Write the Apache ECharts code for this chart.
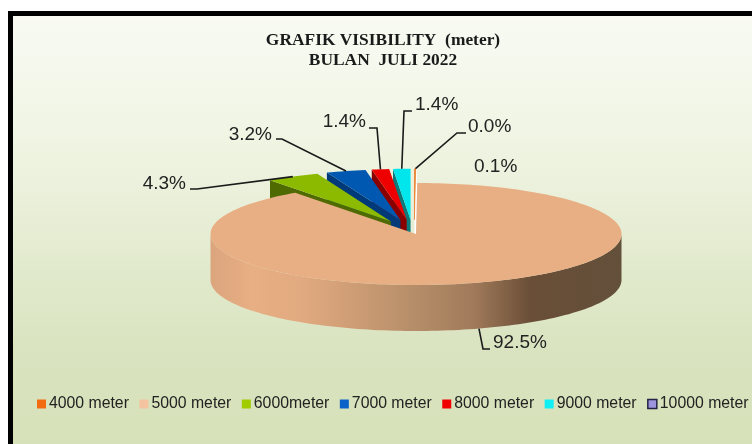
<!DOCTYPE html>
<html>
<head>
<meta charset="utf-8">
<title>Grafik Visibility</title>
<style>
html, body { margin: 0; padding: 0; background: #fff; }
#chart { width: 752px; height: 444px; }
</style>
<script src="https://cdn.jsdelivr.net/npm/echarts@6/dist/echarts.min.js"></script>
</head>
<body>
<div id="chart"></div>
<script>
// data, legend order, clockwise from 12 o'clock
const categories = ['4000 meter', '5000 meter', '6000meter', '7000 meter', '8000 meter', '9000 meter', '10000 meter'];
const percents = [0.1, 92.5, 4.3, 3.2, 1.4, 1.4, 0.0];

const topColors = ['#e46c0a', '#e8ae84', '#8cba00', '#0058b0', '#ee0000', '#00e6ec', '#8a80c8'];
const wallColors = ['#96470a', '#a88260', '#4f6a00', '#003a78', '#8a0000', '#0a7a7a', '#5a5490'];
const legendColors = ['#f36b10', '#f5c3a0', '#a0cc00', '#0a62c8', '#f00000', '#10f0f4', '#9c94dc'];
// back to front, the big slice has to cover the walls of the small ones
const drawOrder = [6, 0, 5, 4, 3, 2, 1];

// ellipse of the top face
const pie = { cx: 415.5, cy: 234, rx: 205.5, ry: 51, depth: 46, explodeX: 0.22, explodeY: 0.28, shiftX: -3 };

// text anchor and elbow of each leader line
const labelSpots = [
    { x: 474, y: 167, align: 'left', elbow: null },
    { x: 493, y: 343, align: 'left', elbow: [[483, 349], [490, 349]] },
    { x: 186, y: 184, align: 'right', elbow: [[197, 189], [190, 189]] },
    { x: 272, y: 135, align: 'right', elbow: [[282, 139], [276, 139]] },
    { x: 366, y: 122, align: 'right', elbow: [[377, 128], [369, 128]] },
    { x: 415, y: 105, align: 'left', elbow: [[404, 111], [412, 111]] },
    { x: 468, y: 127, align: 'left', elbow: [[457, 133], [466, 133]] }
];

const total = percents.reduce((a, b) => a + b, 0);

function sliceAngles(i) {
    let before = 0;
    for (let k = 0; k < i; k++) before += percents[k];
    return [before / total * 360, (before + percents[i]) / total * 360];
}

function onRim(cx, cy, deg) {
    const a = deg * Math.PI / 180;
    return [cx + pie.rx * Math.sin(a), cy - pie.ry * Math.cos(a)];
}

function sliceCentre(i) {
    // only the 5000 slice stays in place
    if (i === 1) return [pie.cx + 0.5, pie.cy];
    const ang = sliceAngles(i);
    const mid = (ang[0] + ang[1]) / 2 * Math.PI / 180;
    const shift = i === 6 ? 0 : i === 0 ? -1.2 : pie.shiftX;
    return [
        pie.cx + shift + pie.explodeX * pie.rx * Math.sin(mid),
        pie.cy - pie.explodeY * pie.ry * Math.cos(mid)
    ];
}

function arcPoints(cx, cy, from, to) {
    const pts = [];
    const steps = Math.max(2, Math.ceil((to - from) / 1.5));
    for (let s = 0; s <= steps; s++) {
        pts.push(onRim(cx, cy, from + (to - from) * s / steps));
    }
    return pts;
}

function renderSlice(params) {
    const i = params.seriesIndex;
    const ang = sliceAngles(i);
    const c = sliceCentre(i);
    const children = [];

    if (i === 1) {
        // front wall of the big slice
        const upper = arcPoints(c[0], c[1], 90, 270);
        const lower = upper.map(p => [p[0], p[1] + pie.depth]).reverse();
        children.push({
            type: 'polygon',
            shape: { points: upper.concat(lower) },
            style: {
                fill: new echarts.graphic.LinearGradient(0, 0, 1, 0, [
                    { offset: 0, color: '#dba57d' },
                    { offset: 0.1, color: '#e8ae84' },
                    { offset: 0.22, color: '#e2aa80' },
                    { offset: 0.5, color: '#b58d69' },
                    { offset: 0.64, color: '#a07a5a' },
                    { offset: 0.78, color: '#6a4e37' },
                    { offset: 1, color: '#63503b' }
                ])
            }
        });
    } else {
        // cut face on the left of the wedge
        const outer = onRim(c[0], c[1], ang[0]);
        children.push({
            type: 'polygon',
            shape: {
                points: [c, outer, [outer[0], outer[1] + pie.depth], [c[0], c[1] + pie.depth]]
            },
            style: i === 6
                ? { fill: '#ffffff', stroke: '#ffffff', lineWidth: 2 }
                : { fill: wallColors[i] }
        });
    }

    children.push({
        type: 'polygon',
        shape: { points: [c].concat(arcPoints(c[0], c[1], ang[0], ang[1])) },
        style: i === 6
            ? { fill: '#ffffff', stroke: '#ffffff', lineWidth: 3 }
            : i === 0
                ? { fill: topColors[i], stroke: topColors[i], lineWidth: 0.5 }
                : { fill: topColors[i] }
    });
    return { type: 'group', children: children };
}

function renderLabel(params, api) {
    const i = api.value(0);
    const spot = labelSpots[i];
    const children = [];
    if (spot.elbow) {
        const ang = sliceAngles(i);
        const c = sliceCentre(i);
        const start = onRim(c[0], c[1], (ang[0] + ang[1]) / 2);
        if (i === 1) start[1] += pie.depth;
        children.push({
            type: 'polyline',
            shape: { points: [start].concat(spot.elbow) },
            style: { stroke: '#1a1a1a', lineWidth: 1.6, fill: 'none' }
        });
    }
    children.push({
        type: 'text',
        style: {
            text: percents[i].toFixed(1) + '%',
            x: spot.x,
            y: spot.y,
            align: spot.align,
            verticalAlign: 'middle',
            fill: '#222222',
            font: '19px "Liberation Sans", Arial, sans-serif'
        }
    });
    return { type: 'group', children: children };
}

const sliceSeries = categories.map((name, i) => ({
    name: name,
    type: 'custom',
    coordinateSystem: 'none',
    z: 2 + drawOrder.indexOf(i),
    silent: true,
    itemStyle: { color: legendColors[i] },
    renderItem: renderSlice,
    data: [percents[i]]
}));

const myChart = echarts.init(document.getElementById('chart'), null, { renderer: 'canvas' });

myChart.setOption({
    animation: false,
    graphic: [
        {
            type: 'rect',
            z: -10,
            shape: { x: 10.5, y: 13.5, width: 760, height: 450 },
            style: {
                fill: new echarts.graphic.LinearGradient(0, 0, 0, 1, [
                    { offset: 0, color: '#f9fbf4' },
                    { offset: 0.3, color: '#eff4e2' },
                    { offset: 0.75, color: '#d9e3bf' },
                    { offset: 1, color: '#d6e1b8' }
                ]),
                stroke: '#000000',
                lineWidth: 5
            }
        }
    ],
    title: {
        text: 'GRAFIK VISIBILITY  (meter)\nBULAN  JULI 2022',
        left: 378,
        top: 26,
        textAlign: 'center',
        textStyle: {
            fontFamily: '"Liberation Serif", serif',
            fontWeight: 'bold',
            fontSize: 17.4,
            lineHeight: 20,
            color: '#1a1a1a'
        }
    },
    legend: {
        left: 37,
        top: 396,
        width: 715,
        padding: 0,
        itemWidth: 9,
        itemHeight: 9,
        itemGap: 10.5,
        icon: 'rect',
        textStyle: {
            fontFamily: '"Liberation Sans", Arial, sans-serif',
            fontSize: 15.8,
            color: '#222222',
            padding: [0, 0, 0, -2]
        },
        data: categories.map((name, i) => ({
            name: name,
            itemStyle: i === 6
                ? { color: legendColors[i], borderColor: '#222244', borderWidth: 1.5 }
                : { color: legendColors[i] }
        }))
    },
    series: sliceSeries.concat([{
        name: 'labels',
        type: 'custom',
        coordinateSystem: 'none',
        z: 20,
        silent: true,
        renderItem: renderLabel,
        data: categories.map((name, i) => [i])
    }])
});
myChart.resize();
</script>
</body>
</html>
